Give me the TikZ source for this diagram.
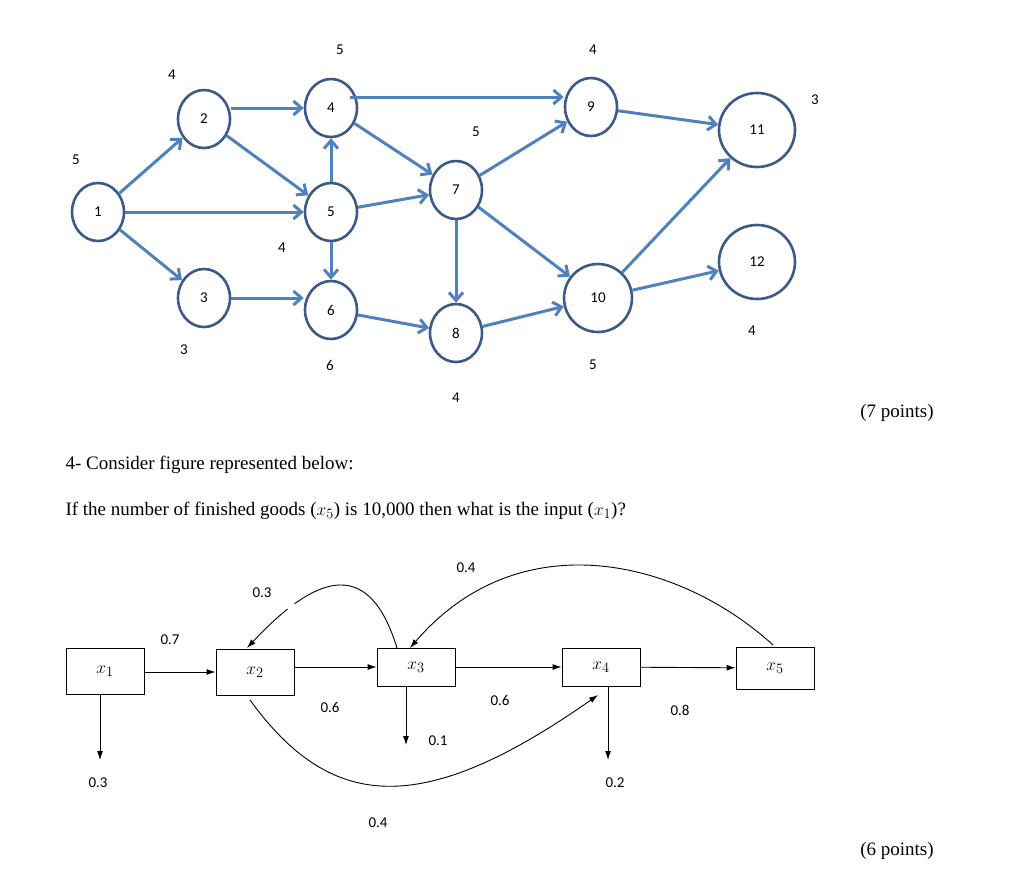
\documentclass[tikz,border=0pt]{standalone}
\usepackage{fontspec}
\setmainfont{Liberation Serif}
\newfontfamily\lab{Carlito}
\usetikzlibrary{arrows.meta,shapes.geometric}
\definecolor{eb}{RGB}{79,129,189}
\definecolor{nb}{RGB}{60,90,135}
\begin{document}
\begin{tikzpicture}[x=1pt,y=-1pt,
  n/.style={draw=nb,line width=2.6pt,ellipse,minimum width=52pt,minimum height=58pt,inner sep=0pt,fill=white,font=\lab\fontsize{15}{15}\selectfont},
  nb/.style={n,minimum width=68pt,minimum height=68pt},
  nc/.style={n,minimum width=76pt,minimum height=74pt},
  e/.style={draw=eb,line width=3pt,-{Straight Barb[length=8pt,width=14pt]}},
  t/.style={font=\lab\fontsize{15}{15}\selectfont},
  bx/.style={draw,line width=0.9pt,minimum width=78pt,inner sep=0pt,font=\fontsize{19}{19}\selectfont},
  a/.style={draw,line width=0.9pt,-{Latex[length=9pt,width=6pt]}},
  txt/.style={font=\fontsize{19}{19}\selectfont,anchor=west}]
\useasboundingbox (0,0) rectangle (1024,879);
\node[n] (1) at (98,212) {1};
\node[n] (2) at (204,119) {2};
\node[n] (3) at (204,298) {3};
\node[n] (4) at (331,108) {4};
\node[n] (5) at (331,212) {5};
\node[n] (6) at (331,310) {6};
\node[n] (7) at (456,190) {7};
\node[n] (8) at (456,333) {8};
\node[n] (9) at (591,107) {9};
\node[nb] (10) at (598,298) {10};
\node[nc] (11) at (757,130) {11};
\node[nc] (12) at (757,262) {12};
\foreach \u/\v in {1/2,1/5,1/3,2/5,5/4,5/6,5/7,4/7,6/8,7/8,7/9,7/10,8/10,9/11,10/11,10/12}
  \draw[e] (\u) -- (\v);
\draw[e] (2.east |- 0,108) -- (4.west);
\draw[e] (3.east) -- (3.east -| 6.west);
\draw[e] (4.north east |- 0,97) -- (9.west |- 0,97);
\node[t] (l1) at (340,50) {5};
\node[t] (l2) at (172,75) {4};
\node[t] (l3) at (76,160) {5};
\node[t] (l4) at (282,248) {4};
\node[t] (l5) at (184,350) {3};
\node[t] (l6) at (330,365) {6};
\node[t] (l7) at (456,398) {4};
\node[t] (l8) at (476,132) {5};
\node[t] (l9) at (593,50) {4};
\node[t] (l10) at (815,100) {3};
\node[t] (l11) at (593,365) {5};
\node[t] (l12) at (752,331) {4};
\node[font=\fontsize{19}{19}\selectfont] (p1) at (897,413) {(7 points)};
\node[txt] (q1) at (62,465) {4- Consider figure represented below:};
\node[txt] (q2) at (62,511) {If the number of finished goods ($x_5$) is 10,000 then what is the input ($x_1$)?};
\node[font=\fontsize{19}{19}\selectfont] (p2) at (897,851) {(6 points)};
\node[bx,minimum height=46pt] (x1) at (105,671) {$x_1$};
\node[bx,minimum height=46pt] (x2) at (255,672) {$x_2$};
\node[bx,minimum height=38pt] (x3) at (416,667) {$x_3$};
\node[bx,minimum height=38pt] (x4) at (601,667) {$x_4$};
\node[bx,minimum height=42pt] (x5) at (775,668) {$x_5$};
\draw[a] (x1.east |- 0,672) -- (x2.west |- 0,672);
\draw[a] (x2.east |- 0,667) -- (x3.west |- 0,667);
\draw[a] (x3) -- (x4);
\draw[a] (x4) -- (x5);
\coordinate (d1) at (100,760);
\coordinate (d3) at (406,745);
\coordinate (d4) at (608,760);
\draw[a] (x1.south -| d1) -- (d1);
\draw[a] (x3.south -| d3) -- (d3);
\draw[a] (x4.south -| d4) -- (d4);
\draw[a] (397,648) .. controls (370,560) and (320,570) .. (247,648);
\draw[a] (773,645) .. controls (680,560) and (520,520) .. (410,648);
\draw[a] (250,700) .. controls (330,810) and (420,820) .. (598,695);
\fill[white] (290,605) circle (5pt) (495,590) circle (5pt);
\node[t] (b1) at (170,640) {0.7};
\node[t] (b2) at (330,707) {0.6};
\node[t] (b3) at (500,700) {0.6};
\node[t] (b4) at (680,710) {0.8};
\node[t] (b5) at (98,783) {0.3};
\node[t] (b6) at (438,741) {0.1};
\node[t] (b7) at (615,783) {0.2};
\node[t] (b8) at (378,823) {0.4};
\node[t] (b9) at (262,593) {0.3};
\node[t] (b10) at (466,568) {0.4};
\end{tikzpicture}
\end{document}
